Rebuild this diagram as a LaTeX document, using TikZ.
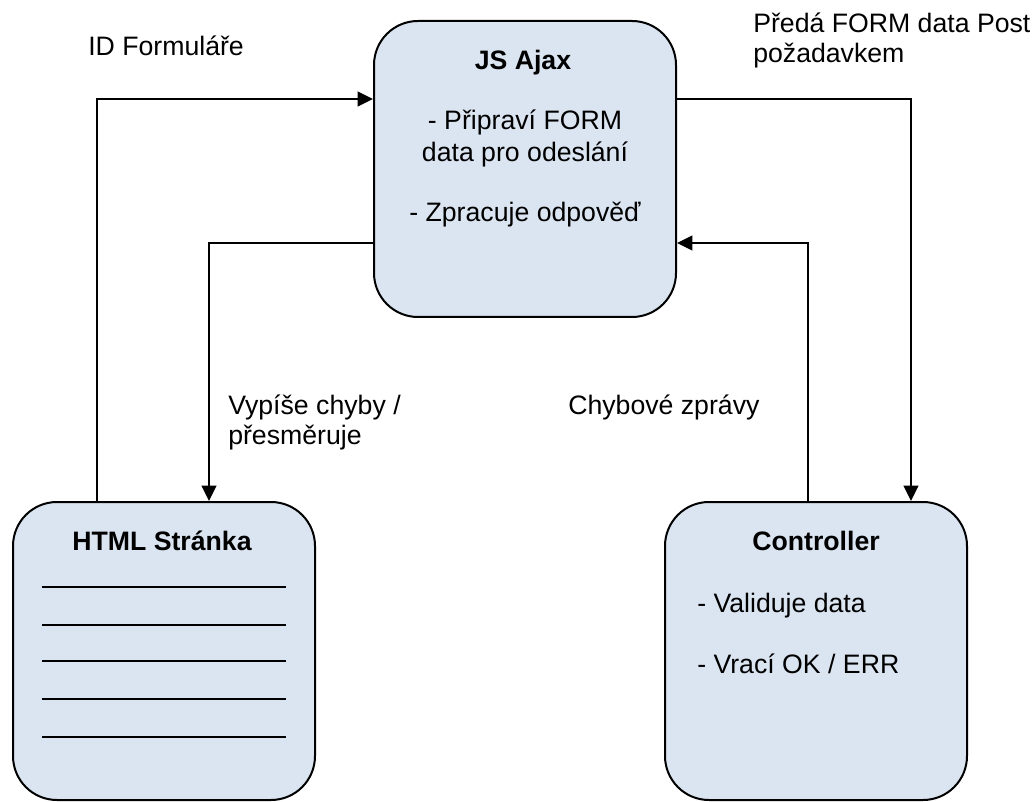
\documentclass[tikz,border=0pt]{standalone}
\usepackage{fontspec}
\setmainfont{Liberation Sans}
\usetikzlibrary{arrows.meta}
\definecolor{boxfill}{HTML}{DBE5F1}
\begin{document}
\begin{tikzpicture}[x=0.75pt,y=-0.75pt,
  box/.style={draw=black,fill=boxfill,line width=1.5pt,rounded corners=33pt,
              minimum width=226.5pt,inner sep=0pt},
  flow/.style={line width=1.5pt,-{Triangle[length=11.5pt,width=11pt]}},
  txt/.style={font=\fontsize{20}{24}\selectfont,inner sep=0pt,anchor=base},
  txtl/.style={txt,anchor=base west},
  title/.style={txt,font=\fontsize{20}{24}\selectfont\bfseries},
  rule/.style={line width=1.5pt}]
\useasboundingbox (0,0) rectangle (1036,802);

% boxes
\node[box,minimum height=222pt]   (js)   at (525,169) {};
\node[box,minimum height=223.5pt] (html) at (164,651) {};
\node[box,minimum height=223.5pt] (ctrl) at (816,651) {};

% JS Ajax contents
\node[title] (jsT) at (523,70)  {JS Ajax};
\node[txt]   (js1) at (525,130) {- Připraví FORM};
\node[txt]   (js2) at (525,162) {data pro odeslání};
\node[txt]   (js3) at (525,222) {- Zpracuje odpověď};

% HTML page contents
\node[title] (htmlT) at (162,550) {HTML Stránka};
\foreach \y in {587,625,661,699,737}
  \draw[rule] (42,\y) -- (286,\y);

% Controller contents
\node[title] (ctrlT) at (816,550) {Controller};
\node[txtl]  (ctrl1) at (697,612) {- Validuje data};
\node[txtl]  (ctrl2) at (697,673) {- Vrací OK / ERR};

% connector labels
\node[txtl] (lId)   at (88,56)   {ID Formuláře};
\node[txtl] (lPost) at (753,33)  {Předá FORM data Post};
\node[txtl] (lPos2) at (753,63)  {požadavkem};
\node[txtl] (lVyp)  at (228,415) {Vypíše chyby /};
\node[txtl] (lVyp2) at (228,445) {přesměruje};
\node[txtl] (lChyb) at (568,415) {Chybové zprávy};

% routing helpers
\coordinate (xa) at (97,0);
\coordinate (xb) at (209,0);
\coordinate (xc) at (911,0);
\coordinate (xd) at (808,0);
\coordinate (ya) at (0,99);
\coordinate (yb) at (0,243);

% connectors
\draw[flow] (xa |- html.north) |- (js.west |- ya);
\draw[flow] (js.west |- yb) -| (xb |- html.north);
\draw[flow] (js.east |- ya) -| (xc |- ctrl.north);
\draw[flow] (xd |- ctrl.north) |- (js.east |- yb);
\end{tikzpicture}
\end{document}
